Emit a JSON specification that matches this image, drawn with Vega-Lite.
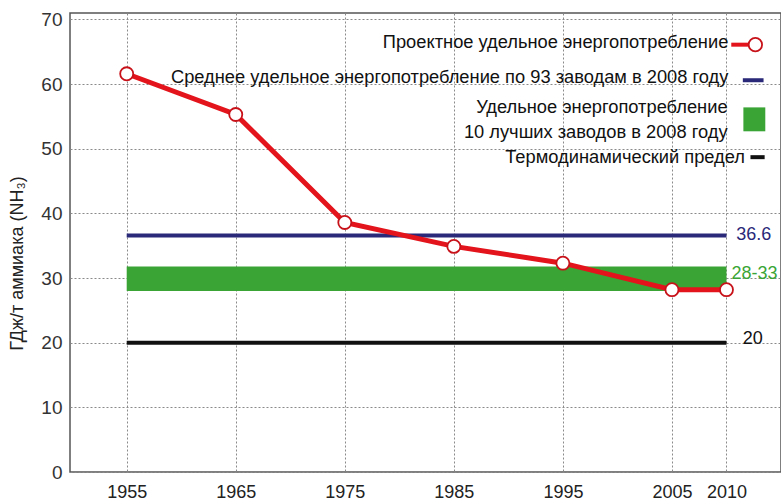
{
  "$schema": "https://vega.github.io/schema/vega-lite/v6.json",
  "width": 711,
  "height": 459,
  "autosize": {"type": "none"},
  "padding": {"left": 70, "top": 13, "right": 0, "bottom": 30},
  "background": "white",
  "config": {"view": {"stroke": "#555", "strokeWidth": 1.5}, "font": "Liberation Sans"},
  "datasets": {
    "series": [
      {"year": 1955, "v": 61.6},
      {"year": 1965, "v": 55.3},
      {"year": 1975, "v": 38.6},
      {"year": 1985, "v": 34.9},
      {"year": 1995, "v": 32.3},
      {"year": 2005, "v": 28.2},
      {"year": 2010, "v": 28.2}
    ],
    "band": [{"x": 1955, "x2": 2010, "y": 28, "y2": 31.8}],
    "rules": [
      {"x": 1955, "x2": 2010, "y": 36.6, "kind": "avg"},
      {"x": 1955, "x2": 2010, "y": 20, "kind": "thermo"}
    ],
    "vlabels": [
      {"x": 2010.9, "y": 36.6, "t": "36.6", "kind": "avg"},
      {"x": 2010.45, "y": 30.6, "t": "28-33", "kind": "band"},
      {"x": 2011.5, "y": 20.6, "t": "20", "kind": "thermo"}
    ],
    "legendText": [
      {"x": 2010.17, "y": 66.3, "t": "Проектное удельное энергопотребление"},
      {"x": 2010.17, "y": 61.0, "t": "Среднее удельное энергопотребление по 93 заводам в 2008 году"},
      {"x": 2010.1, "y": 56.3, "t": "Удельное энергопотребление"},
      {"x": 2010.1, "y": 52.4, "t": "10 лучших заводов в 2008 году"},
      {"x": 2011.7, "y": 48.6, "t": "Термодинамический предел"}
    ],
    "legendRules": [
      {"x": 2010.44, "x2": 2012.3, "y": 66.1, "kind": "red"},
      {"x": 2011.5, "x2": 2013.4, "y": 60.6, "kind": "avg"},
      {"x": 2012.2, "x2": 2013.5, "y": 48.7, "kind": "thermo"}
    ],
    "legendRect": [{"x": 2011.55, "x2": 2013.56, "y": 56.4, "y2": 52.7}],
    "legendPoint": [{"x": 2012.65, "y": 66.1}]
  },
  "layer": [
    {
      "data": {"name": "band"},
      "mark": {"type": "rect", "color": "#3aa535"},
      "encoding": {
        "x": {
          "field": "x", "type": "quantitative",
          "scale": {"domain": [1949.8, 2015], "nice": false, "zero": false},
          "axis": {
            "values": [1955, 1965, 1975, 1985, 1995, 2005, 2010],
            "format": "d", "title": null, "grid": true, "gridDash": [2, 2],
            "gridColor": "#8a8a8a", "gridWidth": 1, "domain": false, "ticks": false,
            "labelFontSize": 18, "labelColor": "#222", "labelPadding": 11
          }
        },
        "x2": {"field": "x2"},
        "y": {
          "field": "y", "type": "quantitative",
          "scale": {"domain": [0, 71], "nice": false},
          "axis": {
            "values": [0, 10, 20, 30, 40, 50, 60, 70],
            "title": "ГДж/т аммиака (NH₃)", "titleFontSize": 18, "titleFontWeight": "normal",
            "titleColor": "#222", "titleX": -44, "titleY": 250, "titleBaseline": "bottom",
            "grid": true, "gridDash": [2, 2], "gridColor": "#8a8a8a", "gridWidth": 1,
            "domain": false, "ticks": false,
            "labelFontSize": 19, "labelColor": "#333", "labelPadding": 8
          }
        },
        "y2": {"field": "y2"}
      }
    },
    {
      "data": {"name": "rules"},
      "mark": {"type": "rule", "strokeWidth": 4},
      "encoding": {
        "x": {"field": "x", "type": "quantitative"},
        "x2": {"field": "x2"},
        "y": {"field": "y", "type": "quantitative"},
        "color": {
          "field": "kind", "type": "nominal",
          "scale": {"domain": ["avg", "thermo", "band", "red"], "range": ["#2a2878", "#111111", "#3aa535", "#e3141b"]},
          "legend": null
        },
        "strokeWidth": {
          "field": "kind", "type": "nominal",
          "scale": {"domain": ["avg", "thermo"], "range": [4.5, 2.5]},
          "legend": null
        }
      }
    },
    {
      "data": {"name": "series"},
      "mark": {"type": "line", "color": "#e3141b", "strokeWidth": 5},
      "encoding": {
        "x": {"field": "year", "type": "quantitative"},
        "y": {"field": "v", "type": "quantitative"}
      }
    },
    {
      "data": {"name": "series"},
      "mark": {"type": "point", "shape": "circle", "filled": true, "fill": "white", "stroke": "#c8121a", "strokeWidth": 1.8, "size": 170, "opacity": 1},
      "encoding": {
        "x": {"field": "year", "type": "quantitative"},
        "y": {"field": "v", "type": "quantitative"}
      }
    },
    {
      "data": {"name": "vlabels"},
      "mark": {"type": "text", "align": "left", "baseline": "middle", "fontSize": 18},
      "encoding": {
        "x": {"field": "x", "type": "quantitative"},
        "y": {"field": "y", "type": "quantitative"},
        "text": {"field": "t"},
        "color": {
          "field": "kind", "type": "nominal",
          "scale": {"domain": ["avg", "band", "thermo"], "range": ["#35357f", "#3fa83a", "#111111"]},
          "legend": null
        }
      }
    },
    {
      "data": {"name": "legendText"},
      "mark": {"type": "text", "align": "right", "baseline": "middle", "fontSize": 18.3, "color": "#111"},
      "encoding": {
        "x": {"field": "x", "type": "quantitative"},
        "y": {"field": "y", "type": "quantitative"},
        "text": {"field": "t"}
      }
    },
    {
      "data": {"name": "legendRules"},
      "mark": {"type": "rule", "strokeWidth": 4},
      "encoding": {
        "x": {"field": "x", "type": "quantitative"},
        "x2": {"field": "x2"},
        "y": {"field": "y", "type": "quantitative"},
        "color": {
          "field": "kind", "type": "nominal",
          "scale": {"domain": ["avg", "thermo", "band", "red"], "range": ["#2a2878", "#111111", "#3aa535", "#e3141b"]},
          "legend": null
        }
      }
    },
    {
      "data": {"name": "legendRect"},
      "mark": {"type": "rect", "color": "#3aa535"},
      "encoding": {
        "x": {"field": "x", "type": "quantitative"},
        "x2": {"field": "x2"},
        "y": {"field": "y", "type": "quantitative"},
        "y2": {"field": "y2"}
      }
    },
    {
      "data": {"name": "legendPoint"},
      "mark": {"type": "point", "shape": "circle", "filled": true, "fill": "white", "stroke": "#c8121a", "strokeWidth": 1.8, "size": 180, "opacity": 1},
      "encoding": {
        "x": {"field": "x", "type": "quantitative"},
        "y": {"field": "y", "type": "quantitative"}
      }
    }
  ]
}
